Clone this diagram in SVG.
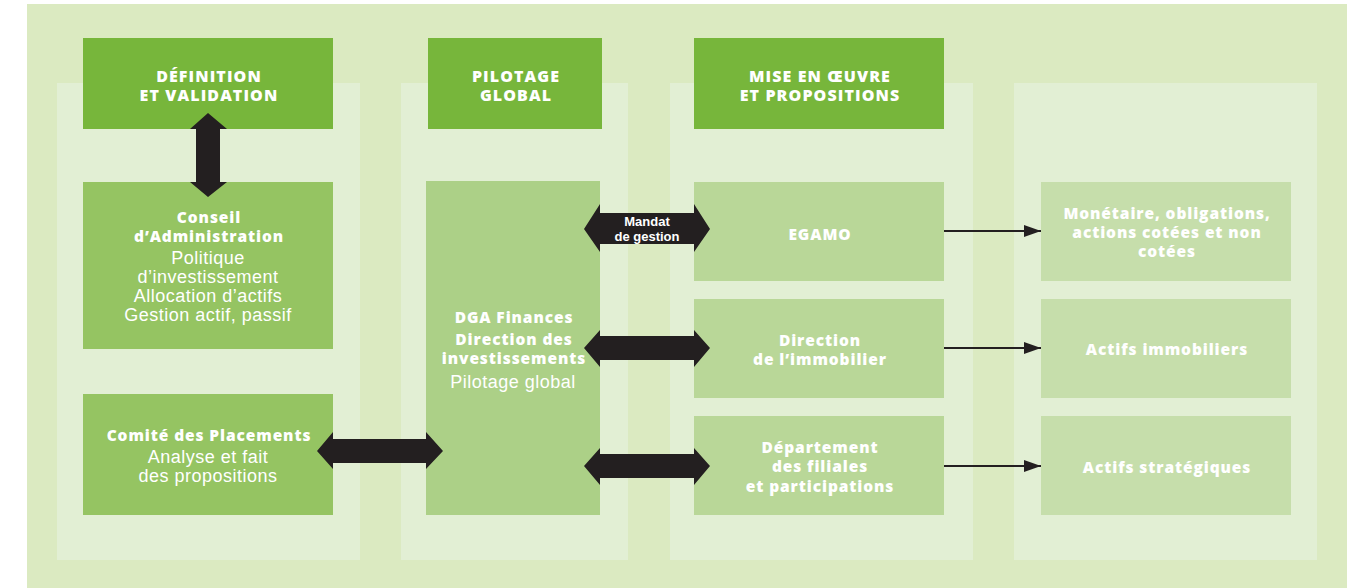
<svg xmlns="http://www.w3.org/2000/svg" width="1358" height="588" viewBox="0 0 1358 588">
<defs>
<style>
.hdr{fill:#77b63b}
.hdt{font-family:"Open Sans","Liberation Sans",sans-serif;font-weight:800;font-size:16px;letter-spacing:1.1px;fill:#fff;text-anchor:middle}
.ttl{font-family:"Open Sans","Liberation Sans",sans-serif;font-weight:800;font-size:15.5px;letter-spacing:0.9px;fill:#fff;text-anchor:middle}
.reg{font-family:"Liberation Sans",Arial,sans-serif;font-size:18px;letter-spacing:0.5px;fill:#fff;text-anchor:middle}
.sm{font-family:"Liberation Sans",Arial,sans-serif;font-weight:700;font-size:13px;fill:#fff;text-anchor:middle}
.arr{fill:#231f20}
.ln{stroke:#231f20;stroke-width:2;fill:none}
</style>
<marker id="ah" viewBox="0 0 17 12" refX="17" refY="6" markerWidth="17" markerHeight="12" markerUnits="userSpaceOnUse" orient="auto">
<path d="M0,0 L17,6 L0,12 z" fill="#231f20"/>
</marker>
</defs>
<rect width="1358" height="588" fill="#fff"/>
<rect x="27" y="4" width="1320" height="584" fill="#dbeac1"/>
<g id="columns" fill="#e2efd4">
<rect x="57" y="83" width="303" height="477"/>
<rect x="401" y="83" width="227" height="477"/>
<rect x="670" y="83" width="303" height="477"/>
<rect x="1014" y="83" width="303" height="477"/>
</g>
<g id="h1"><rect class="hdr" x="83" y="38" width="250" height="91"/><text class="hdt" x="209" y="82">DÉFINITION</text><text class="hdt" x="209" y="101">ET VALIDATION</text></g>
<g id="h2"><rect class="hdr" x="428" y="38" width="174" height="91"/><text class="hdt" x="516" y="82">PILOTAGE</text><text class="hdt" x="516" y="101">GLOBAL</text></g>
<g id="h3"><rect class="hdr" x="694" y="38" width="250" height="91"/><text class="hdt" x="820" y="82">MISE EN ŒUVRE</text><text class="hdt" x="820" y="101">ET PROPOSITIONS</text></g>
<g id="conseil"><rect x="83" y="182" width="250" height="167" fill="#95c462"/>
<text class="ttl" x="209" y="223">Conseil</text><text class="ttl" x="209" y="242">d’Administration</text>
<text class="reg" x="208" y="264">Politique</text><text class="reg" x="208" y="283">d’investissement</text><text class="reg" x="208" y="302">Allocation d’actifs</text><text class="reg" x="208" y="321">Gestion actif, passif</text></g>
<g id="comite"><rect x="83" y="394" width="250" height="121" fill="#95c462"/>
<text class="ttl" x="209" y="441">Comité des Placements</text>
<text class="reg" x="208" y="463">Analyse et fait</text><text class="reg" x="208" y="482">des propositions</text></g>
<g id="dga"><rect x="426" y="181" width="174" height="334" fill="#acd087"/>
<text class="ttl" x="514" y="323">DGA Finances</text><text class="ttl" x="514" y="345">Direction des</text><text class="ttl" x="514" y="364">investissements</text>
<text class="reg" x="513" y="388">Pilotage global</text></g>
<g id="egamo"><rect x="694" y="182" width="250" height="99" fill="#b9d798"/><text class="ttl" x="820" y="240">EGAMO</text></g>
<g id="immo"><rect x="694" y="299" width="250" height="99" fill="#b9d798"/><text class="ttl" x="820" y="346">Direction</text><text class="ttl" x="820" y="365">de l’immobilier</text></g>
<g id="dept"><rect x="694" y="416" width="250" height="99" fill="#b9d798"/><text class="ttl" x="820" y="453">Département</text><text class="ttl" x="820" y="472">des filiales</text><text class="ttl" x="820" y="492">et participations</text></g>
<g id="monetaire"><rect x="1041" y="182" width="250" height="99" fill="#c6deab"/><text class="ttl" x="1167" y="219">Monétaire, obligations,</text><text class="ttl" x="1167" y="238">actions cotées et non</text><text class="ttl" x="1167" y="257">cotées</text></g>
<g id="actimmo"><rect x="1041" y="299" width="250" height="99" fill="#c6deab"/><text class="ttl" x="1167" y="355">Actifs immobiliers</text></g>
<g id="actstrat"><rect x="1041" y="416" width="250" height="99" fill="#c6deab"/><text class="ttl" x="1167" y="473">Actifs stratégiques</text></g>
<g id="connectors">
<path class="arr" d="M208,113 L227,129 L220,129 L220,182 L227,182 L208,197 L190,182 L196,182 L196,129 L190,129 Z"/>
<path class="arr" d="M584,229 L600,204 L600,213 L694,213 L694,204 L710,229 L694,252 L694,244 L600,244 L600,252 Z"/>
<path class="arr" d="M317,451 L333,432 L333,439 L426,439 L426,432 L443,451 L426,469 L426,463 L333,463 L333,469 Z"/>
<path class="arr" d="M584,348 L600,330 L600,336 L694,336 L694,330 L710,348 L694,367 L694,360 L600,360 L600,367 Z"/>
<path class="arr" d="M584,466 L600,448 L600,454 L694,454 L694,448 L710,466 L694,485 L694,478 L600,478 L600,485 Z"/>
<line class="ln" x1="944" y1="231" x2="1041" y2="231" marker-end="url(#ah)"/>
<line class="ln" x1="944" y1="348" x2="1041" y2="348" marker-end="url(#ah)"/>
<line class="ln" x1="944" y1="466" x2="1041" y2="466" marker-end="url(#ah)"/>
<text class="sm" x="647" y="226">Mandat</text><text class="sm" x="647" y="241">de gestion</text>
</g>
</svg>
